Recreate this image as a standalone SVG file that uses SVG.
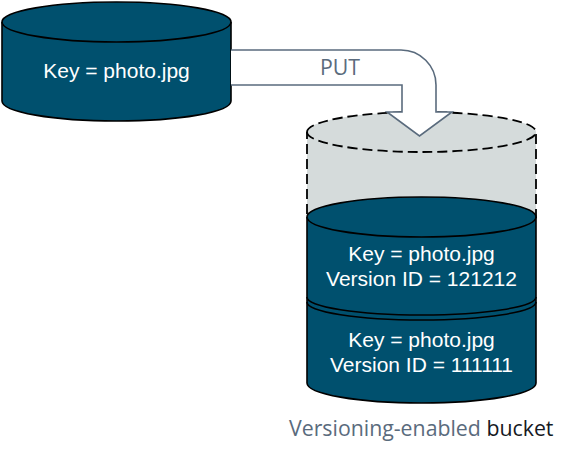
<svg xmlns="http://www.w3.org/2000/svg" width="571" height="456" viewBox="0 0 571 456">
<style>
.cyl{fill:#00506e;stroke:#000;stroke-width:1.6}
.edge{fill:none;stroke:#000;stroke-width:1.6}
.ghost{fill:#d5dbdb;stroke:#000;stroke-width:1.8;stroke-dasharray:10 5}
.wt{font-family:"Liberation Sans",Arial,sans-serif;font-size:21px;fill:#fff;text-anchor:middle}
.lbl{font-family:"Open Sans","Liberation Sans",sans-serif;font-size:21.3px}
</style>
<rect width="571" height="456" fill="#fff"/>
<g id="source">
<path class="cyl" d="M2,22 A114.5,20 0 0 1 231,22 V101 A114.5,20 0 0 1 2,101 Z"/>
<path class="edge" d="M2,22 A114.5,20 0 0 0 231,22"/>
<text class="wt" x="116.5" y="78">Key = photo.jpg</text>
</g>
<g id="bucket">
<path class="ghost" d="M307,132 A114.5,20 0 0 1 536,132 V217 H307 Z"/>
<path class="ghost" fill="none" d="M307,132 A114.5,20 0 0 0 536,132"/>
<path class="cyl" d="M307,217 A114.5,20 0 0 1 536,217 V383 A114.5,20 0 0 1 307,383 Z"/>
<path class="edge" d="M307,217 A114.5,20 0 0 0 536,217"/>
<path class="edge" d="M307,297 A114.5,18 0 0 0 536,297"/>
<path class="edge" d="M307,302 A114.5,18 0 0 0 536,302"/>
</g>
<g id="connectors">
<path d="M231,50 H401 A35,35 0 0 1 436,85 V112 H452 L419.5,136 L387,112 H402 V85 H231" fill="#fff" stroke="#5a6b7d" stroke-width="1.6" stroke-linejoin="miter"/>
<text class="lbl" x="340" y="75" text-anchor="middle" fill="#5a6b7d">PUT</text>
</g>
<g id="version-121212">
<text class="wt" x="421.5" y="261">Key = photo.jpg</text>
<text class="wt" x="421.5" y="286">Version ID = 121212</text>
</g>
<g id="version-111111">
<text class="wt" x="421.5" y="347">Key = photo.jpg</text>
<text class="wt" x="421.5" y="372">Version ID = 111111</text>
</g>
<g id="caption">
<text class="lbl" x="289" y="436" fill="#5a6b7d">Versioning-enabled <tspan fill="#16191f">bucket</tspan></text>
</g>
</svg>
